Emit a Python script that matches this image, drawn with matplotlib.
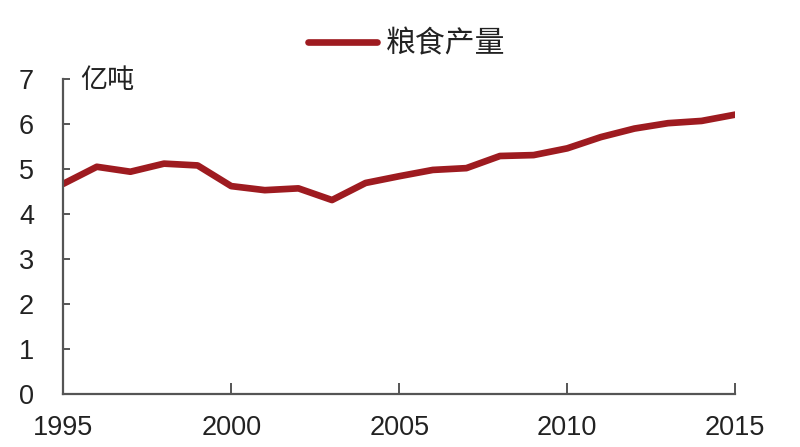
import matplotlib.pyplot as plt

plt.rcParams['font.family'] = ['Liberation Sans', 'Noto Sans CJK SC', 'DejaVu Sans']

years = list(range(1995, 2016))
grain = [4.67, 5.05, 4.94, 5.12, 5.08, 4.62, 4.53, 4.57, 4.31, 4.69, 4.84,
         4.98, 5.02, 5.29, 5.31, 5.46, 5.71, 5.90, 6.02, 6.07, 6.21]
series_name = "粮食产量"
unit = "亿吨"

fig = plt.figure(figsize=(8, 4.47), dpi=100)
ax = fig.add_axes([0.079, 0.119, 0.840, 0.704])

line, = ax.plot(years, grain, color="#9E1B20", lw=4.8, solid_capstyle="round",
                label=series_name)

ax.set_xlim(1995, 2015)
ax.set_ylim(0, 7)
ax.set_xticks([1995, 2000, 2005, 2010, 2015])
ax.set_yticks(range(0, 8))

for s in ["top", "right"]:
    ax.spines[s].set_visible(False)
for s in ["left", "bottom"]:
    ax.spines[s].set_color("#555555")
    ax.spines[s].set_linewidth(1.6)

ax.tick_params(axis="y", direction="in", length=5, width=1.4, color="#555555",
               labelsize=19.5, pad=21, labelcolor="#222222")
ax.tick_params(axis="x", direction="in", length=8, width=1.4, color="#555555",
               labelsize=19.5, pad=15, labelcolor="#222222")

ax.text(1995.5, 7.27, unit, fontsize=19.5, family=["Noto Sans CJK SC", "DejaVu Sans"],
        va="top", ha="left", clip_on=False, color="#222222")

leg = fig.legend(handles=[line], loc="center", bbox_to_anchor=(0.508, 0.901),
                 frameon=False, handlelength=2.3, handletextpad=0.3,
                 prop={"family": ["Noto Sans CJK SC", "DejaVu Sans"], "size": 21.5})
for t in leg.get_texts():
    t.set_color("#222222")

fig.savefig("out.png", dpi=100)
